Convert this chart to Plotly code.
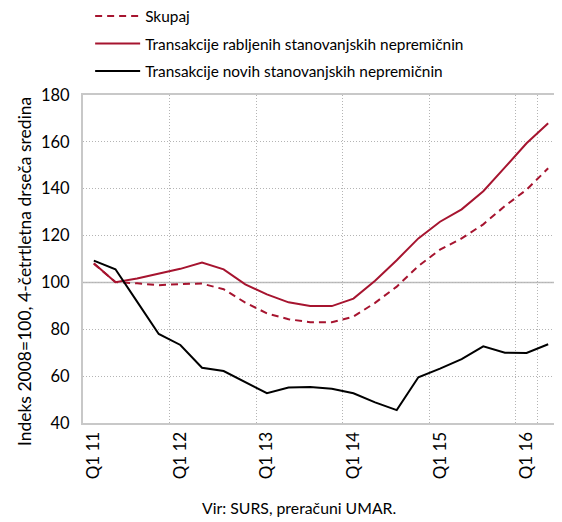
import plotly.graph_objects as go

quarters = [f"Q{q} {y}" for y in range(11, 17) for q in range(1, 5)][:22]
tick_labels = ["Q1 11", "Q1 12", "Q1 13", "Q1 14", "Q1 15", "Q1 16"]

skupaj = [108.0, 100.2, 99.6, 98.8, 99.3, 99.5, 97.1, 91.4, 86.8, 84.3, 83.0,
          83.0, 85.4, 91.3, 98.2, 107.0, 114.0, 118.8, 124.8, 132.6, 139.6, 148.7]
rabljene = [108.2, 100.1, 101.7, 103.6, 105.8, 108.5, 105.6, 99.2, 94.9, 91.5, 89.9,
            89.9, 93.1, 100.7, 109.5, 118.8, 125.9, 131.2, 138.9, 149.1, 159.4, 167.9]
nove = [109.3, 105.6, 91.8, 78.0, 73.3, 63.6, 62.2, 57.5, 52.7, 55.1, 55.4,
        54.6, 52.7, 48.8, 45.5, 59.5, 63.2, 67.3, 72.7, 70.0, 69.9, 73.6]

RED = "#a6142f"
FONT = "Lato"
GRID = "#b4b4b4"

fig = go.Figure()
fig.add_trace(go.Scatter(x=quarters, y=skupaj, mode="lines", name="Skupaj",
                         line=dict(color=RED, width=2, dash="7px,5px"), legendgroup="a"))
fig.add_trace(go.Scatter(x=quarters, y=rabljene, mode="lines",
                         name="Transakcije rabljenih stanovanjskih nepremičnin",
                         line=dict(color=RED, width=2), legendgroup="b"))
fig.add_trace(go.Scatter(x=quarters, y=nove, mode="lines",
                         name="Transakcije novih stanovanjskih nepremičnin",
                         line=dict(color="black", width=2), legendgroup="c"))

fig.add_shape(type="line", xref="paper", x0=0, x1=1, yref="y", y0=100, y1=100,
              line=dict(color="#bdbdbd", width=1.5), layer="below")

fig.update_layout(
    width=554, height=514,
    margin=dict(l=75, r=3, t=87, b=99, autoexpand=False),
    paper_bgcolor="white", plot_bgcolor="white",
    font=dict(family=FONT, size=15, color="black"),
    showlegend=True,
    legend=dict(x=0.015, xanchor="left", y=1.291, yanchor="top",
                traceorder="grouped", tracegroupgap=4.5, itemwidth=45,
                font=dict(size=15.4), bgcolor="rgba(0,0,0,0)"),
    xaxis=dict(type="category", categoryorder="array", categoryarray=quarters,
               tickmode="array", tickvals=tick_labels, ticktext=tick_labels,
               tickson="boundaries", tickangle=-90, ticks="", automargin=False,
               showgrid=True, gridcolor=GRID, griddash="1px,2px", gridwidth=1,
               showline=True, linecolor="#c8c8c8", linewidth=2, mirror=True,
               range=[-0.5, 21.5], tickfont=dict(size=17)),
    yaxis=dict(range=[40, 180], dtick=20, tick0=40, automargin=False,
               showgrid=True, gridcolor=GRID, griddash="1px,2px", gridwidth=1,
               showline=True, linecolor="#c8c8c8", linewidth=2, mirror=True,
               zeroline=False, ticks="", tickfont=dict(size=16.5), ticklabelstandoff=8),
)

fig.add_annotation(text="Indeks 2008=100, 4-četrtletna drseča sredina",
                   xref="paper", yref="paper", x=-0.124, y=0.463, textangle=-90,
                   showarrow=False, font=dict(size=17.5), xanchor="center", yanchor="middle")
fig.add_annotation(text="Vir: SURS, preračuni UMAR.", xref="paper", yref="paper",
                   x=0.454, y=-0.259, showarrow=False, font=dict(size=15.8),
                   xanchor="center", yanchor="middle")

fig.write_html("out.html")
